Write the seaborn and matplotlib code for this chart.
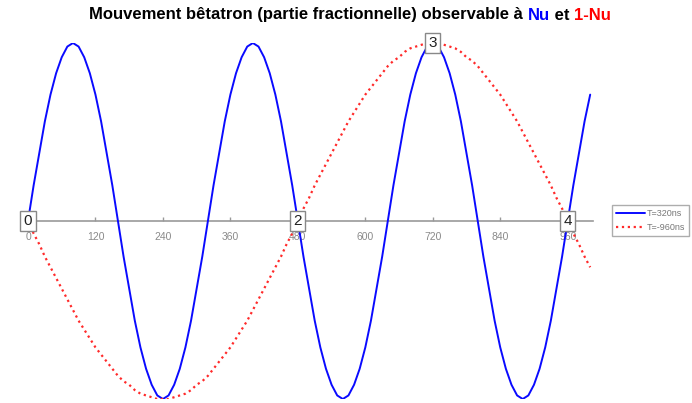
import matplotlib
matplotlib.use("Agg")
import matplotlib.pyplot as plt
import seaborn as sns
import numpy as np

# time axis in ns, one sample every 10 ns
t_ns = np.arange(0, 1001, 10)

# normalised betatron displacement, T = 320 ns
nu_320 = [
    0, 0.20, 0.38, 0.56, 0.71, 0.83, 0.92, 0.98, 1.00, 0.98, 0.92, 0.83, 0.71, 0.56, 0.38, 0.20,
    0, -0.20, -0.38, -0.56, -0.71, -0.83, -0.92, -0.98, -1.00, -0.98, -0.92, -0.83, -0.71, -0.56, -0.38, -0.20,
    0, 0.20, 0.38, 0.56, 0.71, 0.83, 0.92, 0.98, 1.00, 0.98, 0.92, 0.83, 0.71, 0.56, 0.38, 0.20,
    0, -0.20, -0.38, -0.56, -0.71, -0.83, -0.92, -0.98, -1.00, -0.98, -0.92, -0.83, -0.71, -0.56, -0.38, -0.20,
    0, 0.20, 0.38, 0.56, 0.71, 0.83, 0.92, 0.98, 1.00, 0.98, 0.92, 0.83, 0.71, 0.56, 0.38, 0.20,
    0, -0.20, -0.38, -0.56, -0.71, -0.83, -0.92, -0.98, -1.00, -0.98, -0.92, -0.83, -0.71, -0.56, -0.38, -0.20,
    0, 0.20, 0.38, 0.56, 0.71,
]

# same, T = -960 ns
nu_960 = [
    0, -0.07, -0.13, -0.20, -0.26, -0.32, -0.38, -0.44, -0.50, -0.56, -0.61, -0.66, -0.71,
    -0.75, -0.79, -0.83, -0.87, -0.90, -0.92, -0.95, -0.97, -0.98, -0.99, -1.00, -1.00,
    -1.00, -0.99, -0.98, -0.97, -0.95, -0.92, -0.90, -0.87, -0.83, -0.79, -0.75, -0.71,
    -0.66, -0.61, -0.56, -0.50, -0.44, -0.38, -0.32, -0.26, -0.20, -0.13, -0.07, 0,
    0.07, 0.13, 0.20, 0.26, 0.32, 0.38, 0.44, 0.50, 0.56, 0.61, 0.66, 0.71,
    0.75, 0.79, 0.83, 0.87, 0.90, 0.92, 0.95, 0.97, 0.98, 0.99, 1.00, 1.00,
    1.00, 0.99, 0.98, 0.97, 0.95, 0.92, 0.90, 0.87, 0.83, 0.79, 0.75, 0.71,
    0.66, 0.61, 0.56, 0.50, 0.44, 0.38, 0.32, 0.26, 0.20, 0.13, 0.07, 0,
    -0.07, -0.13, -0.20, -0.26,
]

tick_values = [0, 120, 240, 360, 480, 600, 720, 840, 960]

# turn markers where both signals are seen at the same point
marker_labels = ["0", "2", "3", "4"]
marker_t = [0, 480, 720, 960]
marker_y = [0, 0, 1, 0]

series_labels = ["T=320ns", "T=-960ns"]

sns.set_style("white")
plt.rcParams["font.family"] = ["Liberation Sans", "DejaVu Sans"]

fig = plt.figure(figsize=(6.92, 4.03), dpi=100)
ax = fig.add_axes([28 / 692, 4 / 403, 565 / 692, 356 / 403])

sns.lineplot(x=t_ns, y=nu_320, ax=ax, color="#0a0aff", linewidth=1.4,
             label=series_labels[0], zorder=3)
sns.lineplot(x=t_ns, y=nu_960, ax=ax, color="#ff2a2a", linewidth=1.6,
             linestyle=":", label=series_labels[1], zorder=3)

ax.set_xlim(0, 1005)
ax.set_ylim(-1, 1)
for side in ["left", "right", "top"]:
    ax.spines[side].set_visible(False)
ax.spines["bottom"].set_position(("data", 0))
ax.spines["bottom"].set_color("#999999")
ax.spines["bottom"].set_linewidth(1.2)
ax.set_yticks([])
ax.set_xticks(tick_values)
ax.tick_params(axis="x", direction="in", length=3, width=1, colors="#999999",
               labelcolor="#8a8a8a", labelsize=7.5, pad=8, bottom=True)

for lab, t, y in zip(marker_labels, marker_t, marker_y):
    ax.text(t, y, lab, ha="center", va="center", fontsize=11, color="#222222",
            bbox=dict(boxstyle="square,pad=0.22", fc="white", ec="#888888", lw=1),
            clip_on=False, zorder=5)

leg = ax.legend(loc="upper left", bbox_to_anchor=(612 / 692, 1 - 205 / 403),
                bbox_transform=fig.transFigure, fontsize=6.5, frameon=True,
                fancybox=False, edgecolor="#999999", labelcolor="#777777",
                handlelength=3.2, handletextpad=0.15, borderaxespad=0,
                borderpad=0.45, labelspacing=0.55)
leg.get_frame().set_linewidth(1)

# title with coloured words
parts = [("Mouvement bêtatron (partie fractionnelle) observable à ", "black"),
         ("Nu", "#0000ff"), (" et ", "black"), ("1-Nu", "#ff0000")]
texts = [fig.text(0, 1 - 15 / 403, s, color=c, fontsize=12, fontweight="bold",
                  va="center", ha="left") for s, c in parts]
fig.canvas.draw()
renderer = fig.canvas.get_renderer()
widths = [tx.get_window_extent(renderer).width / 692 for tx in texts]
x = 350 / 692 - sum(widths) / 2
for tx, w in zip(texts, widths):
    tx.set_x(x)
    x += w

fig.savefig("out.png", dpi=100)
